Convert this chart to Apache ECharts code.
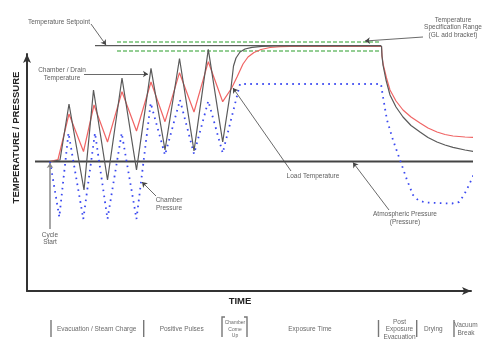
<!DOCTYPE html>
<html>
<head>
<meta charset="utf-8">
<script src="https://cdn.jsdelivr.net/npm/echarts@6/dist/echarts.min.js"></script>
<style>
  html, body { margin: 0; padding: 0; background: #fff; }
  #chart { width: 502px; height: 354px; }
</style>
</head>
<body>
<div id="chart"></div>
<script>
// Values are in chart units: x = elapsed cycle time, y = temperature / pressure
const chamberTemp = [
  [23, 129.5], [33, 131], [42, 187], [57, 101], [66.5, 201], [80.5, 111], [95, 213],
  [109.5, 121], [124, 222.7], [138, 141], [152.5, 232.5], [167, 140], [181.3, 241.7],
  [195.7, 149], [204, 203], [206.5, 225], [209, 233], [213, 239], [218, 242],
  [225, 243.7], [235, 244.7], [248, 245], [354.5, 245], [355, 235], [356, 226],
  [359, 211], [363, 196], [369, 184], [376, 174], [384, 165.5], [393, 159],
  [401, 153.5], [410, 149], [418, 146], [426, 143.7], [438, 141], [450, 139]
];
const loadTemp = [
  [23, 129.5], [31, 131.5], [42, 177], [56.5, 139.5], [67, 186], [80.5, 149], [95, 199.3],
  [109.5, 160], [124, 209], [138, 169.3], [152.5, 218.3], [167, 179], [181.3, 229.3],
  [195.7, 189.3], [204.7, 203], [210, 214], [216, 227], [221, 234], [227, 238.5],
  [234, 241.5], [243, 243.5], [253, 244.4], [263, 244.5], [354.5, 244.5], [355, 235],
  [356.3, 226], [359.5, 213], [363, 201], [369, 190], [376, 181], [384, 174], [393, 168],
  [401, 163], [410, 159], [418, 156.5], [426, 155], [438, 154], [450, 153.5]
];
const chamberPressure = [
  [23, 129.5], [32.3, 74], [41.5, 158], [56.3, 72], [68, 158], [80.5, 72], [94.7, 158],
  [109.5, 72], [123.7, 188], [138, 136], [153, 191], [167, 137], [181.3, 190],
  [195.7, 138], [213, 207], [354, 207], [356, 194], [360, 171], [366, 151], [373, 131],
  [380, 111], [386, 96], [391, 91], [398, 88.5], [410, 88], [425, 87.5], [432, 89],
  [437, 96], [442, 106], [447, 117], [451, 127]
];
const setpoint = [[68, 245.3], [354, 245.3]];
const specHigh = [[90, 249], [353, 249]];
const specLow = [[90, 240], [353, 240]];
const atmospheric = [[8, 129.5], [458, 129.5]];

const calloutTexts = [
  'Temperature Setpoint',
  'Chamber / Drain\nTemperature',
  'Load Temperature',
  'Atmospheric Pressure\n(Pressure)',
  'Chamber\nPressure',
  'Temperature\nSpecification Range\n(GL add bracket)',
  'Cycle\nStart'
];
const calloutAt = [
  [32, 268.5], [35, 216.5], [286, 114.3], [378, 72.7], [142, 86.5], [426, 263.3], [23, 52.3]
];
const calloutArrows = [
  [[64, 267], [79, 246]],
  [[57, 217], [121, 217]],
  [[264, 120], [206, 203]],
  [[362, 81], [326, 128.5]],
  [[129, 95], [115, 109]],
  [[396, 254], [338, 250]]
];
const cycleStartArrow = [[23, 62], [23, 128]];

const phaseNames = [
  'Evacuation / Steam Charge', 'Positive Pulses', 'Chamber\nCome\nUp', 'Exposure Time',
  'Post\nExposure\nEvacuation', 'Drying', 'Vacuum\nBreak'
];
const phaseAt = [69.7, 154.7, 208, 283, 372.5, 406.3, 439];
const phaseBounds = [24, 116.7, 351.5, 389.7, 427];
const comeUpBracket = [195, 220];

const FONT = '"Liberation Sans", Arial, sans-serif';
const phaseRow = -38.3;

function lineSeries(data, color, width, type, z) {
  return {
    type: 'line', data: data, clip: false, symbol: 'none', silent: true, z: z || 2,
    lineStyle: { color: color, width: width, type: type || 'solid' }
  };
}

const chart = echarts.init(document.getElementById('chart'), null, { renderer: 'canvas' });

const calloutData = calloutTexts.map((t, i) => ({ name: t, value: calloutAt[i] }));
const phaseData = phaseNames.map((t, i) => {
  const item = { name: t, value: [phaseAt[i], phaseRow] };
  if (i === 2) item.label = { fontSize: 5, lineHeight: 6.5 };
  return item;
});
const phaseLines = phaseBounds.map(x => ({ coords: [[x, -29], [x, -46]] }));
phaseLines.push({ coords: [[comeUpBracket[0] + 3, -26], [comeUpBracket[0], -26], [comeUpBracket[0], -46]] });
phaseLines.push({ coords: [[comeUpBracket[1] - 3, -26], [comeUpBracket[1], -26], [comeUpBracket[1], -46]] });

chart.setOption({
  animation: false,
  grid: { left: 27, right: 31, top: 54, bottom: 63 },
  xAxis: {
    type: 'value', min: 0, max: 444,
    name: 'TIME', nameLocation: 'middle', nameGap: 5,
    nameTextStyle: { fontFamily: FONT, fontWeight: 'bold', fontSize: 9.5, color: '#222', padding: [0, 18, 0, 0] },
    axisLine: { show: true, symbol: ['none', 'arrow'], symbolSize: [6, 9], lineStyle: { color: '#333', width: 2 } },
    axisTick: { show: false }, axisLabel: { show: false }, splitLine: { show: false }
  },
  yAxis: {
    type: 'value', min: 0, max: 237,
    name: 'TEMPERATURE / PRESSURE', nameLocation: 'middle', nameGap: 6, nameRotate: 90,
    nameTextStyle: { fontFamily: FONT, fontWeight: 'bold', fontSize: 9.5, color: '#222', padding: [0, 0, 0, 70] },
    axisLine: { show: true, symbol: ['none', 'arrow'], symbolSize: [6, 9], lineStyle: { color: '#333', width: 2 } },
    axisTick: { show: false }, axisLabel: { show: false }, splitLine: { show: false }
  },
  series: [
    lineSeries(specHigh, '#72bf72', 1.5, [4, 2]),
    lineSeries(specLow, '#72bf72', 1.5, [4, 2]),
    lineSeries(setpoint, '#333', 1),
    lineSeries(atmospheric, '#444', 2.2, 'solid', 1),
    lineSeries(chamberPressure, '#3a48f0', 1.8, [1.6, 4.4], 3),
    lineSeries(loadTemp, '#f06464', 1.2, 'solid', 4),
    lineSeries(chamberTemp, '#5a5a5a', 1.2, 'solid', 5),
    {
      type: 'lines', coordinateSystem: 'cartesian2d', clip: false, silent: true, z: 6,
      symbol: ['none', 'arrow'], symbolSize: 5,
      lineStyle: { color: '#444', width: 0.8, opacity: 1 },
      data: calloutArrows.map(a => ({ coords: a }))
    },
    {
      type: 'lines', coordinateSystem: 'cartesian2d', clip: false, silent: true, z: 6,
      symbol: ['none', 'arrow'], symbolSize: 5,
      lineStyle: { color: '#888', width: 1.5, opacity: 1 },
      data: [{ coords: cycleStartArrow }]
    },
    {
      type: 'lines', coordinateSystem: 'cartesian2d', clip: false, silent: true, polyline: true,
      symbol: 'none',
      lineStyle: { color: '#777', width: 1.4, opacity: 1 },
      data: phaseLines
    },
    {
      type: 'scatter', clip: false, silent: true, symbolSize: 1, z: 7,
      itemStyle: { color: 'transparent' },
      label: { show: true, position: 'inside', formatter: '{b}', fontFamily: FONT, fontSize: 6.5, lineHeight: 7.6, color: '#333' },
      data: calloutData
    },
    {
      type: 'scatter', clip: false, silent: true, symbolSize: 1, z: 7,
      itemStyle: { color: 'transparent' },
      label: { show: true, position: 'inside', formatter: '{b}', fontFamily: FONT, fontSize: 6.5, lineHeight: 7.5, color: '#444' },
      data: phaseData
    }
  ]
});
</script>
</body>
</html>
